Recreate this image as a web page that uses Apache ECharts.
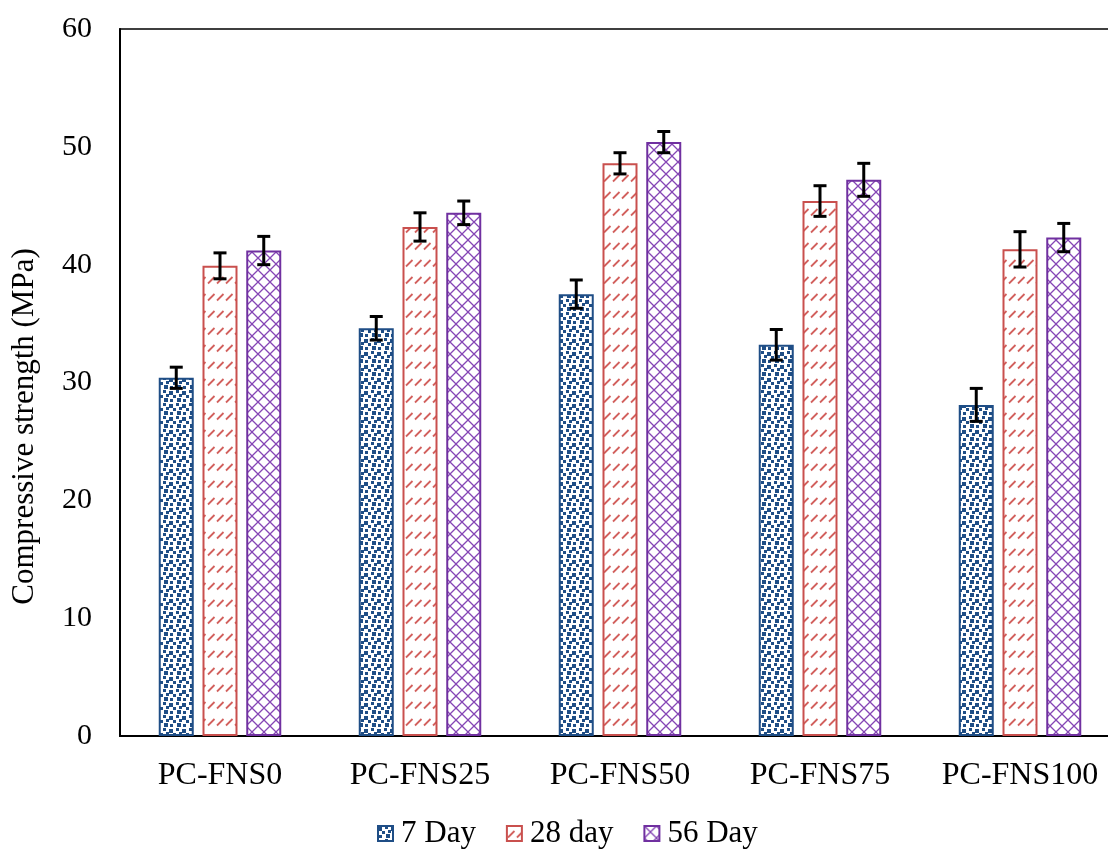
<!DOCTYPE html>
<html>
<head>
<meta charset="utf-8">
<script src="https://cdn.jsdelivr.net/npm/echarts@6/dist/echarts.min.js"></script>
<style>
  html, body { margin: 0; padding: 0; background: #fff; }
  #chart { width: 1108px; height: 849px; }
</style>
</head>
<body>
<div id="chart"></div>
<script>
// Compressive strength of the PC-FNS mixes at three curing ages
const categories = ['PC-FNS0', 'PC-FNS25', 'PC-FNS50', 'PC-FNS75', 'PC-FNS100'];
const seriesNames = ['7 Day', '28 day', '56 Day'];

const day7 = [30.4, 34.6, 37.5, 33.2, 28.1];
const day28 = [39.9, 43.2, 48.6, 45.4, 41.3];
const day56 = [41.2, 44.4, 50.4, 47.2, 42.3];

const err7 = [0.9, 1.0, 1.2, 1.3, 1.4];
const err28 = [1.1, 1.2, 0.9, 1.3, 1.5];
const err56 = [1.2, 1.0, 0.9, 1.4, 1.2];

const yTicks = { min: 0, max: 60, interval: 10 };

const FONT = '"Times New Roman", "Liberation Serif", serif';

// ---- fill patterns ----
function makeTile(w, h, draw) {
  const c = document.createElement('canvas');
  c.width = w; c.height = h;
  const ctx = c.getContext('2d');
  ctx.fillStyle = '#ffffff';
  ctx.fillRect(0, 0, w, h);
  draw(ctx);
  return c;
}

// confetti squares
const BLUE = '#1F4E86';
const confetti = makeTile(13, 13, function (ctx) {
  ctx.fillStyle = BLUE;
  const sq = [[0, 1, 4], [7, 0, 3], [4, 5, 3], [10, 4, 3], [1, 9, 3], [8, 8, 4]];
  sq.forEach(function (s) { ctx.fillRect(s[0], s[1], s[2], s[2]); });
});

// dashed upward diagonals
const RED = '#C9504E';
const dashes = makeTile(9, 17, function (ctx) {
  ctx.strokeStyle = '#D2605D';
  ctx.lineWidth = 1.8;
  ctx.beginPath();
  ctx.moveTo(1, 11.5);
  ctx.lineTo(7.5, 5);
  ctx.stroke();
});

// diagonal lattice
const PURPLE = '#7030A0';
const lattice = makeTile(12, 12, function (ctx) {
  ctx.strokeStyle = '#8546B5';
  ctx.lineWidth = 1.3;
  ctx.beginPath();
  ctx.moveTo(0, 0); ctx.lineTo(12, 12);
  ctx.moveTo(0, 12); ctx.lineTo(12, 0);
  ctx.stroke();
});

const BAR_W = 35;
const BAR_GAP = 0.25;
const step = BAR_W * (1 + BAR_GAP);

function barSeries(name, data, tile, border) {
  return {
    name: name,
    type: 'bar',
    data: data,
    barWidth: BAR_W,
    barGap: (BAR_GAP * 100) + '%',
    itemStyle: {
      color: { image: tile, repeat: 'repeat' },
      borderColor: border,
      borderWidth: 2
    },
    emphasis: { disabled: true }
  };
}

function errorSeries(values, errs, idx) {
  const offset = (idx - 1) * step;
  return {
    type: 'custom',
    silent: true,
    z: 10,
    encode: { x: 0, y: 1 },
    data: values.map(function (v, i) { return [i, v, errs[i]]; }),
    renderItem: function (params, api) {
      const i = api.value(0), v = api.value(1), e = api.value(2);
      const hi = api.coord([i, v + e]);
      const lo = api.coord([i, v - e]);
      const x = hi[0] + offset;
      const cap = 6.5;
      const style = { stroke: '#000', lineWidth: 3 };
      return {
        type: 'group',
        children: [
          { type: 'line', shape: { x1: x, y1: hi[1], x2: x, y2: lo[1] }, style: style },
          { type: 'line', shape: { x1: x - cap, y1: hi[1], x2: x + cap, y2: hi[1] }, style: style },
          { type: 'line', shape: { x1: x - cap, y1: lo[1], x2: x + cap, y2: lo[1] }, style: style }
        ]
      };
    }
  };
}

const chart = echarts.init(document.getElementById('chart'), null, { renderer: 'canvas' });

chart.setOption({
  animation: false,
  backgroundColor: '#ffffff',
  textStyle: { fontFamily: FONT, color: '#000' },
  grid: {
    left: 120, right: -12, top: 29, bottom: 113,
    show: true, borderColor: '#000', borderWidth: 1.5,
    outerBoundsMode: 'none'
  },
  legend: {
    data: seriesNames,
    left: 372,
    top: 813,
    itemWidth: 15,
    itemHeight: 15,
    itemGap: 30,
    icon: 'rect',
    textStyle: { fontFamily: FONT, fontSize: 31, color: '#000', padding: [0, 0, 0, 3] }
  },
  xAxis: {
    type: 'category',
    data: categories,
    axisLine: { lineStyle: { color: '#000', width: 2 } },
    axisTick: { show: false },
    axisLabel: { interval: 0, fontFamily: FONT, fontSize: 32, color: '#000', margin: 24 }
  },
  yAxis: {
    type: 'value',
    min: yTicks.min,
    max: yTicks.max,
    interval: yTicks.interval,
    name: 'Compressive strength (MPa)',
    nameLocation: 'middle',
    nameGap: 80,
    nameTextStyle: { fontFamily: FONT, fontSize: 31, color: '#000', padding: [0, 88, 0, 0] },
    axisLine: { show: true, lineStyle: { color: '#000', width: 2 } },
    axisTick: { show: false },
    splitLine: { show: false },
    axisLabel: { fontFamily: FONT, fontSize: 30, color: '#000', margin: 28 }
  },
  series: [
    barSeries(seriesNames[0], day7, confetti, BLUE),
    barSeries(seriesNames[1], day28, dashes, RED),
    barSeries(seriesNames[2], day56, lattice, PURPLE),
    errorSeries(day7, err7, 0),
    errorSeries(day28, err28, 1),
    errorSeries(day56, err56, 2)
  ]
});
</script>
</body>
</html>
